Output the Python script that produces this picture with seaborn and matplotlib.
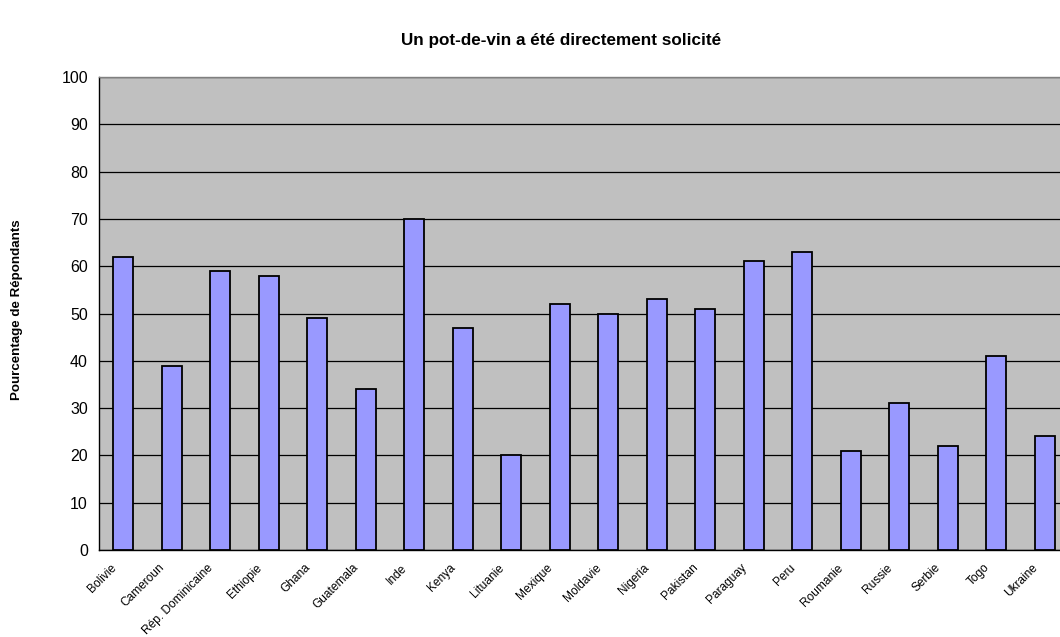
import matplotlib
matplotlib.use("Agg")
import matplotlib.pyplot as plt
import matplotlib.transforms as mtransforms
import seaborn as sns
import pandas as pd
import numpy as np

countries = ["Bolivie", "Cameroun", "Rép. Dominicaine", "Ethiopie", "Ghana",
             "Guatemala", "Inde", "Kenya", "Lituanie", "Mexique", "Moldavie",
             "Nigeria", "Pakistan", "Paraguay", "Peru", "Roumanie", "Russie",
             "Serbie", "Togo", "Ukraine"]
percentages = [62, 39, 59, 58, 49, 34, 70, 47, 20, 52, 50, 53, 51, 61, 63,
               21, 31, 22, 41, 24]
y_ticks = [0, 10, 20, 30, 40, 50, 60, 70, 80, 90, 100]

title = "Un pot-de-vin a été directement solicité"
y_label = "Pourcentage de Répondants"

sns.set_style("white", {"text.color": "black", "axes.labelcolor": "black",
                        "xtick.color": "black", "ytick.color": "black"})
plt.rcParams["font.family"] = ["Liberation Sans", "DejaVu Sans"]

W, H = 1060, 637
fig = plt.figure(figsize=(W / 100, H / 100), dpi=100)
fig.patch.set_facecolor("white")

# plot area in pixel units (the frame runs slightly past the right edge)
left, right, top, bottom = 99, 1069, 77, 550
ax = fig.add_axes([left / W, 1 - bottom / H, (right - left) / W, (bottom - top) / H])
ax.set_facecolor("#C0C0C0")

df = pd.DataFrame({"pays": countries, "pct": percentages})
sns.barplot(data=df, x="pays", y="pct", color="#9999FF", saturation=1,
            edgecolor="black", linewidth=1.3, width=0.41, ax=ax, zorder=3)

ax.set_xlim(-0.5, len(countries) - 0.5)
ax.set_ylim(0, 100)
ax.set_yticks(y_ticks)
ax.set_yticklabels([str(v) for v in y_ticks], fontsize=11.5, color="black")
ax.yaxis.grid(True, color="black", linewidth=0.9, zorder=1)
ax.set_axisbelow(True)

# tick marks sit between categories; category names are drawn as slanted text
ax.set_xticks(np.arange(len(countries) - 1) + 0.5)
ax.set_xticklabels([])
ax.tick_params(axis="x", length=4, width=0.9, color="black", direction="out")
ax.tick_params(axis="y", length=5, width=0.9, color="black", direction="out", pad=3)

label_tf = (mtransforms.blended_transform_factory(ax.transData, ax.transAxes)
            + mtransforms.ScaledTranslation(-9 / 100, -16 / 100, fig.dpi_scale_trans))
for i, name in enumerate(countries):
    ax.text(i, 0, name, transform=label_tf, rotation=45, ha="right", va="center",
            rotation_mode="anchor", fontsize=8.6, color="black", clip_on=False)

for side in ("left", "bottom"):
    ax.spines[side].set_color("black")
    ax.spines[side].set_linewidth(1.0)
ax.spines["top"].set_color("#808080")
ax.spines["top"].set_linewidth(1.0)
ax.spines["right"].set_color("#808080")

ax.set_xlabel("")
ax.set_ylabel("")
fig.text(17.5 / W, 1 - 310 / H, y_label, rotation=90, ha="center", va="center",
         fontsize=9.6, fontweight="bold", color="black")
fig.text(561 / W, 1 - 40 / H, title, ha="center", va="center",
         fontsize=12.3, fontweight="bold", color="black")

fig.savefig("out.png", dpi=100)
